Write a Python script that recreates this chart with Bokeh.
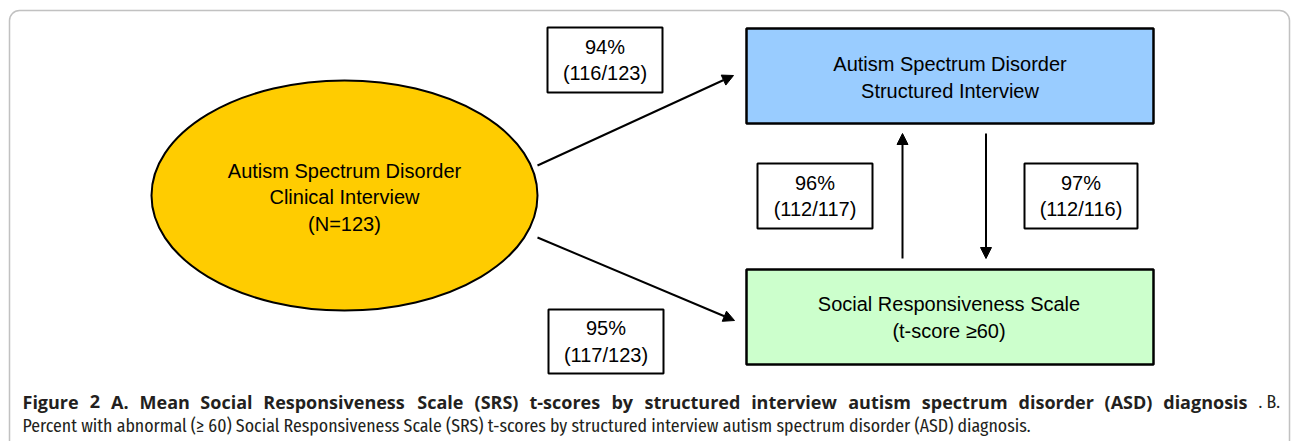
from bokeh.plotting import figure
from bokeh.models import Range1d, Arrow, NormalHead, BoxAnnotation
from bokeh.core.properties import value
from bokeh.embed import file_html
from bokeh.resources import INLINE

# ---- data ----
node_labels = ["Autism Spectrum Disorder\nClinical Interview\n(N=123)",
               "Autism Spectrum Disorder\nStructured Interview",
               "Social Responsiveness Scale\n(t-score \u226560)"]
pct = [94, 95, 96, 97]
num = [116, 117, 112, 112]
den = [123, 123, 117, 116]
caption_bold = "Figure 2 A. Mean Social Responsiveness Scale (SRS) t-scores by structured interview autism spectrum disorder (ASD) diagnosis"
caption_tail = ". B."
caption_line2 = "Percent with abnormal (\u2265 60) Social Responsiveness Scale (SRS) t-scores by structured interview autism spectrum disorder (ASD) diagnosis."

# ---- layout (pixel coordinates) ----
W, H = 1292, 441
p = figure(width=W, height=H, x_range=Range1d(0, W), y_range=Range1d(H, 0),
           output_backend="svg", toolbar_location=None, min_border=0,
           background_fill_color="white", border_fill_color="white")
p.axis.visible = False
p.grid.visible = False
p.outline_line_color = None

# outer rounded frame
p.add_layout(BoxAnnotation(left=9, right=1289, top=10, bottom=480,
                           fill_alpha=0, line_color="#333333", line_width=1.5,
                           border_radius=10))

# ellipse node
p.ellipse(x=[344], y=[195], width=[386], height=[230], fill_color="#FFCC00",
          line_color="black", line_width=2)
# rectangle nodes
p.quad(left=[746, 746], right=[1153, 1153], top=[28, 269], bottom=[123, 364],
       fill_color=["#99CCFF", "#CCFFCC"], line_color="black", line_width=2.5)

font = value("Liberation Sans")
p.text(x=[344, 949.5, 948.5], y=[197, 77, 317], text=node_labels, text_font=font,
       text_font_size="20px", text_align="center", text_baseline="middle",
       text_line_height=1.2, text_color="black")

# percentage boxes
bx = [604.5, 605.5, 814.5, 1080.5]
by = [59.5, 341, 195.5, 195.5]
bw = [115, 115, 115, 113]
bh = [65, 64, 65, 65]
labels = [f"{a}%\n({b}/{c})" for a, b, c in zip(pct, num, den)]
p.rect(x=bx, y=by, width=bw, height=bh, fill_color="white", line_color="black", line_width=2)
p.text(x=bx, y=by, text=labels, text_font=font, text_font_size="20px",
       text_align="center", text_baseline="middle", text_line_height=1.2, text_color="black")

# arrows
arrows = [(537, 165, 733, 75), (537, 237, 734, 320), (902, 258, 902, 133), (985.5, 133, 985.5, 258)]
for x0, y0, x1, y1 in arrows:
    p.add_layout(Arrow(x_start=x0, y_start=y0, x_end=x1, y_end=y1, line_width=2, line_color="black",
                       end=NormalHead(size=11, fill_color="black", line_color="black", line_width=1)))

# caption line 1: justified bold words (approximate Open Sans Bold advance widths, em)
adv = {" ": .260, "(": .332, ")": .332, "-": .322, ".": .285, "2": .571,
       "A": .690, "B": .698, "D": .740, "F": .575, "M": .907, "R": .661, "S": .559,
       "a": .606, "b": .635, "c": .514, "d": .635, "e": .600, "g": .561, "h": .658,
       "i": .297, "l": .297, "m": .981, "n": .658, "o": .618, "p": .635, "r": .440,
       "s": .510, "t": .435, "u": .658, "v": .595, "w": .870, "y": .595}
fs = 18.0
raw_total = sum(adv.get(c, .6) for c in caption_bold) * fs
k = (1061.0 * fs / 17.0) / raw_total
words = caption_bold.split(" ")
ww = [k * fs * sum(adv.get(c, .6) for c in w) for w in words]
x_left, x_right = 22.0, 1247.0
gap = (x_right - x_left - sum(ww)) / (len(words) - 1)
xs = []
cur = x_left
for w_ in ww:
    xs.append(cur)
    cur += w_ + gap
cfont = value("Open Sans")
p.text(x=xs, y=[401] * len(words), text=words, text_font=cfont, text_font_style="bold",
       text_font_size=f"{fs}px", text_baseline="middle", text_color="#231f20")
p.text(x=[1258], y=[401], text=[caption_tail], text_font=value("Fira Sans Condensed"),
       text_font_size="17.8px", text_baseline="middle", text_color="#231f20")
p.text(x=[22], y=[425], text=[caption_line2], text_font=value("Fira Sans Condensed"),
       text_font_size="17.8px", text_baseline="middle", text_color="#231f20")

open("out.html", "w").write(file_html(p, INLINE))
